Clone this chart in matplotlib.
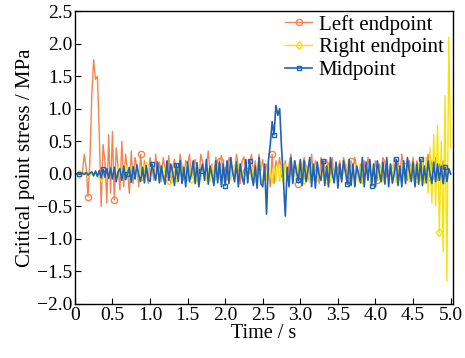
import numpy as np
import matplotlib
matplotlib.use("Agg")
import matplotlib.pyplot as plt

plt.rcParams['font.family'] = ['Liberation Serif', 'DejaVu Serif']

# sampling step of the traces (s)
T_STEP = 0.025

left_endpoint = [
    0.0, 0.0, 0.0, 0.01, 0.02, 0.3, 0.1, -0.35, 0.2, 1.2, 1.75, 1.45, 1.5, 0.6, -0.5, 0.45, 0.2, -0.45, 0.6, -0.3,
    0.65, -0.4, 0.4, 0.1, -0.25, 0.5, -0.2, 0.3, 0.05, -0.3, 0.35, -0.15, 0.25, 0.1, -0.2, 0.3, -0.1, 0.2, 0.05, -0.15,
    0.25, 0.12, -0.1, 0.3, 0.0, 0.18, -0.12, 0.25, 0.08, -0.05, 0.28, -0.15, 0.1, 0.22, 0.02, -0.08, 0.3, 0.12, -0.1, 0.2,
    0.15, 0.3, -0.05, 0.05, 0.22, 0.1, -0.12, 0.3, 0.18, -0.05, 0.12, 0.35, 0.0, 0.15, -0.1, 0.25, 0.05, 0.2, 0.28, -0.05,
    0.1, -0.1, 0.25, 0.18, 0.02, -0.05, 0.3, 0.1, -0.15, 0.2, 0.26, 0.05, -0.05, 0.15, 0.3, 0.0, 0.2, -0.1, 0.3, 0.05,
    0.22, -0.1, 0.15, 0.05, -0.2, 0.3, -0.15, 0.2, 0.1, 0.25, -0.05, 0.0, 0.2, -0.1, 0.15, 0.3, -0.05, 0.2, 0.05, -0.15,
    0.2, 0.05, 0.25, 0.12, -0.1, 0.0, 0.3, -0.05, 0.2, 0.1, -0.15, 0.25, 0.05, 0.15, 0.22, -0.05, 0.0, 0.25, -0.1, 0.15,
    0.05, 0.2, -0.1, 0.25, 0.12, 0.0, -0.2, 0.2, 0.05, 0.25, 0.1, -0.05, 0.15, -0.15, 0.2, 0.0, 0.25, 0.1, -0.05, 0.05,
    0.2, -0.1, 0.15, 0.05, 0.25, 0.18, -0.05, 0.0, 0.15, -0.15, 0.25, 0.05, 0.2, -0.05, 0.3, 0.12, 0.0, -0.1, 0.2, 0.05,
    0.25, -0.05, 0.2, 0.1, -0.1, 0.25, 0.0, 0.15, 0.3, -0.05, 0.2, 0.05, 0.25, -0.1, 0.15, 0.0, 0.2, -0.15, 0.1, 0.05,
    0.0,
]

right_endpoint = [
    0.0, 0.0, 0.0, 0.0, 0.0, 0.01, -0.02, 0.03, -0.03, 0.02, -0.04, 0.05, -0.03, 0.04, -0.05, 0.06, -0.04, 0.05, -0.06, 0.07,
    -0.05, 0.08, -0.06, 0.1, 0.02, -0.07, 0.09, -0.08, 0.1, -0.06, 0.12, 0.0, -0.08, 0.1, -0.07, 0.11, -0.09, 0.04, 0.12, -0.1,
    -0.09, 0.12, 0.03, -0.1, 0.08, -0.12, 0.14, -0.07, 0.1, 0.02, -0.11, 0.13, -0.09, 0.11, -0.13, 0.05, 0.1, -0.08, 0.14, -0.1,
    -0.1, 0.13, -0.08, 0.02, 0.11, -0.14, 0.1, -0.09, 0.15, -0.02, -0.11, 0.08, -0.12, 0.13, 0.0, -0.1, 0.11, -0.08, 0.14, -0.13,
    -0.11, 0.14, 0.01, -0.1, 0.09, -0.13, 0.12, -0.08, 0.15, 0.03, -0.12, 0.1, -0.1, 0.13, -0.09, 0.11, -0.14, 0.02, 0.12, -0.1,
    -0.13, 0.15, -0.1, 0.18, 0.02, -0.14, 0.12, -0.11, 0.16, -0.12, 0.1, -0.15, 0.14, 0.0, -0.09, 0.12, -0.13, 0.11, -0.1, 0.15,
    -0.11, 0.13, -0.09, 0.03, 0.12, -0.14, 0.1, -0.1, 0.14, -0.12, 0.09, -0.11, 0.15, 0.01, -0.1, 0.12, -0.13, 0.1, -0.09, 0.13,
    -0.1, 0.12, -0.13, 0.1, 0.02, -0.09, 0.14, -0.11, 0.12, -0.1, 0.16, -0.12, 0.1, -0.14, 0.0, 0.13, -0.1, 0.11, -0.12, 0.15,
    -0.12, 0.1, -0.1, 0.14, -0.13, 0.02, 0.11, -0.09, 0.13, -0.11, 0.12, -0.14, 0.1, -0.1, 0.15, 0.0, -0.12, 0.11, -0.13, 0.12,
    -0.1, 0.14, -0.08, 0.15, -0.1, 0.2, -0.15, 0.25, -0.3, 0.4, -0.45, 0.6, -0.5, 0.75, -0.9, 0.5, -1.2, 1.2, -1.65, 2.1,
    0.4,
]

midpoint = [
    0.0, 0.0, 0.0, 0.0, 0.01, -0.01, 0.02, -0.02, 0.01, 0.03, -0.03, 0.04, -0.04, 0.05, -0.06, 0.07, -0.05, 0.08, -0.07, 0.09,
    -0.08, 0.1, -0.12, 0.03, 0.08, -0.1, 0.12, -0.09, 0.0, 0.1, -0.13, 0.11, -0.08, 0.14, -0.02, -0.12, 0.1, -0.14, 0.13, -0.09,
    -0.12, 0.15, 0.02, -0.1, 0.18, -0.14, 0.12, -0.05, -0.16, 0.2, -0.1, 0.15, 0.03, -0.18, 0.14, -0.12, 0.2, -0.15, 0.1, -0.2,
    0.18, -0.12, 0.0, 0.2, -0.15, 0.17, -0.2, 0.05, 0.15, -0.1, 0.22, -0.16, 0.12, -0.02, -0.18, 0.2, -0.14, 0.18, -0.2, 0.15,
    -0.18, 0.2, -0.15, 0.25, 0.02, -0.12, 0.18, -0.2, 0.15, -0.05, -0.16, 0.22, -0.14, 0.2, 0.0, -0.18, 0.12, -0.22, 0.25, -0.15,
    -0.2, 0.15, -0.62, 0.2, 0.45, 0.8, 0.6, 1.05, 0.9, 1.0, 0.4, -0.1, -0.65, 0.1, -0.2, 0.25, -0.15, 0.2, 0.02, -0.1,
    0.22, -0.18, 0.2, -0.12, 0.05, 0.25, -0.2, 0.15, -0.22, 0.18, -0.02, -0.1, 0.2, -0.18, 0.12, -0.2, 0.25, 0.0, -0.14, 0.18,
    -0.22, 0.15, -0.12, 0.2, 0.03, -0.16, 0.22, -0.18, 0.15, -0.2, 0.12, 0.0, -0.14, 0.25, -0.2, 0.18, -0.1, 0.22, -0.18, 0.15,
    -0.2, 0.2, 0.02, -0.12, 0.18, -0.16, 0.25, -0.2, 0.15, -0.14, 0.0, 0.22, -0.18, 0.12, -0.2, 0.2, -0.15, 0.25, 0.05, -0.12,
    0.18, -0.2, 0.15, -0.16, 0.22, -0.18, 0.12, -0.14, 0.2, 0.0, -0.15, 0.18, -0.12, 0.15, -0.1, 0.12, -0.15, 0.1, -0.12, 0.08,
    0.0,
]

x_ticks = [0, 0.5, 1.0, 1.5, 2.0, 2.5, 3.0, 3.5, 4.0, 4.5, 5.0]
x_tick_labels = ["0", "0.5", "1.0", "1.5", "2.0", "2.5", "3.0", "3.5", "4.0", "4.5", "5.0"]
y_ticks = [-2.0, -1.5, -1.0, -0.5, 0.0, 0.5, 1.0, 1.5, 2.0, 2.5]

t = np.arange(len(midpoint)) * T_STEP

fig = plt.figure(figsize=(4.65, 3.58), dpi=100)
ax = fig.add_axes([0.161, 0.151, 0.813, 0.818])

ax.plot(t, left_endpoint, color="#f5834f", lw=1.0, marker="o", ms=4.5, mfc="none",
        markevery=(7, 14), label="Left endpoint")
ax.plot(t, right_endpoint, color="#f7e20a", lw=1.0, marker="d", ms=4.5, mfc="none",
        markevery=(2, 12), label="Right endpoint")
ax.plot(t, midpoint, color="#1f62b8", lw=1.2, marker="s", ms=3.5, mfc="none",
        markevery=(2, 13), label="Midpoint")

ax.set_xlim(0, 5.03)
ax.set_ylim(-2.0, 2.5)
ax.set_xticks(x_ticks)
ax.set_xticklabels(x_tick_labels)
ax.set_yticks(y_ticks)
ax.set_yticklabels([f"{v:.1f}".replace("-", "\u2212") for v in y_ticks])
ax.tick_params(direction="in", length=4, labelsize=14, pad=2)
for s in ax.spines.values():
    s.set_linewidth(1.0)

ax.set_xlabel("Time / s", fontsize=14.5, labelpad=0)
ax.set_ylabel("Critical point stress / MPa", fontsize=15, labelpad=1)

leg = ax.legend(loc="upper right", bbox_to_anchor=(1.0, 1.02), frameon=False, fontsize=15,
                handlelength=1.3, handletextpad=0.3, labelspacing=0.15, borderaxespad=0.05)

fig.savefig("out.png", dpi=100)
